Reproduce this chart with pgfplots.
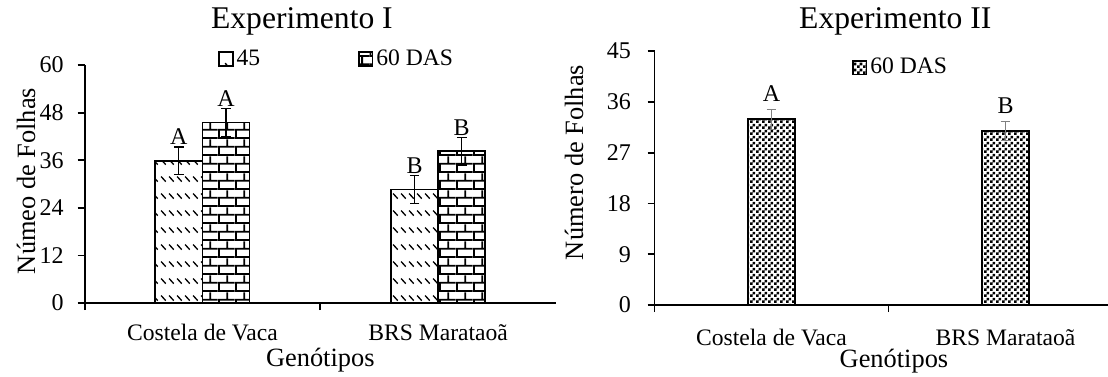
\documentclass[border=0pt]{standalone}
\usepackage{fontspec}
\setmainfont{Liberation Serif}
\usepackage{pgfplots}
\usepackage{pgfplotstable}
\pgfplotsset{compat=1.18}
\usetikzlibrary{patterns.meta}

% short dashes running down to the right
\pgfdeclarepattern{
  name=dashdiag,
  type=uncolored,
  bottom left={\pgfpoint{0pt}{0pt}},
  top right={\pgfpoint{4pt}{8.3pt}},
  tile size={\pgfpoint{4pt}{8.3pt}},
  code={
    \pgfsetlinewidth{0.7pt}
    \pgfpathmoveto{\pgfpoint{0.6pt}{7.4pt}}
    \pgfpathlineto{\pgfpoint{3.2pt}{4.8pt}}
    \pgfusepath{stroke}
  }
}
% horizontal brick wall
\pgfdeclarepattern{
  name=brickwall,
  type=uncolored,
  bottom left={\pgfpoint{0pt}{0pt}},
  top right={\pgfpoint{8.4pt}{8.4pt}},
  tile size={\pgfpoint{8.4pt}{8.4pt}},
  code={
    \pgfpathrectangle{\pgfpoint{0pt}{0pt}}{\pgfpoint{8.4pt}{0.9pt}}
    \pgfpathrectangle{\pgfpoint{0pt}{4.2pt}}{\pgfpoint{8.4pt}{0.9pt}}
    \pgfpathrectangle{\pgfpoint{0pt}{0.9pt}}{\pgfpoint{0.9pt}{3.3pt}}
    \pgfpathrectangle{\pgfpoint{4.2pt}{5.1pt}}{\pgfpoint{0.9pt}{3.3pt}}
    \pgfusepath{fill}
  }
}
% small checkerboard
\pgfdeclarepattern{
  name=finechecks,
  type=uncolored,
  bottom left={\pgfpoint{0pt}{0pt}},
  top right={\pgfpoint{2.8pt}{2.8pt}},
  tile size={\pgfpoint{2.8pt}{2.8pt}},
  code={
    \pgfpathrectangle{\pgfpoint{0pt}{0pt}}{\pgfpoint{1.4pt}{1.4pt}}
    \pgfpathrectangle{\pgfpoint{1.4pt}{1.4pt}}{\pgfpoint{1.4pt}{1.4pt}}
    \pgfusepath{fill}
  }
}

\pgfplotstableread{
x v45 e45 l45 v60 e60 l60
0 35.9 3.45 A 45.5 3.5 A
1 28.6 3.45 B 38.3 3.5 B
}\expI

\pgfplotstableread{
x v60 e60 l60
0 32.9 1.75 A
1 30.8 1.7 B
}\expII

\newcommand{\fs}[1]{\fontsize{#1}{#1}\selectfont}

\pgfplotsset{
  chartbase/.style={
    scale only axis,
    anchor=south west,
    xmin=-0.5, ymin=0,
    axis lines=left,
    axis line style={-, line width=0.9pt, black},
    tick align=outside,
    major tick length=3.5pt,
    tick style={black, line width=0.9pt},
    xtick={-0.5,0.5},
    xticklabels={},
    extra x ticks={0,1},
    extra x tick labels={Costela de Vaca,BRS Marataoã},
    extra x tick style={major tick length=0pt},
    /pgf/number format/assume math mode=true,
    yticklabel style={font=\fs{12}},
    xticklabel style={font=\fs{11.8}, anchor=base},
    ylabel style={font=\fs{13.2}},
    xlabel style={font=\fs{13.2}, anchor=base},
    title style={font=\fs{15.8}, anchor=base},
    legend columns=2,
    legend style={draw=none, fill=none, font=\fs{11.8}, anchor=west,
      inner sep=0pt, nodes={inner xsep=1.5pt},
      /tikz/every even column/.append style={column sep=47.5pt}},
    legend image code/.code={\draw[#1, line width=0.8pt] (0pt,-3.4pt) rectangle (6.8pt,3.4pt);},
  },
  letters/.style={draw=none, mark=none, nodes near coords,
    point meta=explicit symbolic,
    nodes near coords style={anchor=base, font=\fs{12}, inner sep=0pt}},
  errs/.style={draw=none, mark=none, forget plot,
    error bars/.cd, y dir=both, y explicit,
    error bar style={#1, line width=0.6pt},
    error mark options={rotate=90, mark size=2.4pt, #1, line width=0.6pt}},
}

\begin{document}
\begin{tikzpicture}
\path[use as bounding box] (0,0) rectangle (554pt,188pt);

% Experimento I
\begin{axis}[
  chartbase,
  at={(42.3pt,36.5pt)},
  width=235.7pt, height=119pt,
  xmax=1.5, ymax=60,
  ytick={0,12,...,60},
  yticklabel style={xshift=-3.5pt},
  ylabel={Númeo de Folhas},
  ylabel style={at={(axis description cs:-0.124,0.513)}, anchor=center},
  xlabel={Genótipos},
  xlabel style={at={(axis description cs:0.5,-0.265)}},
  title={Experimento I},
  title style={at={(axis description cs:0.461,1.105)}},
  legend style={at={(axis description cs:0.283,1.025)}},
  xticklabel style={yshift=-18.5pt},
]
\addplot[ybar, bar width=0.2, bar shift=-0.1, draw=black, line width=0.9pt,
  pattern={dashdiag}, pattern color=black]
  table[x=x, y=v45] {\expI};
\addlegendentry{45}
\addplot[ybar, bar width=0.2, bar shift=0.1, draw=black, line width=0.9pt,
  pattern={brickwall}, pattern color=black]
  table[x=x, y=v60] {\expI};
\addlegendentry{60 DAS}
% standard errors, one per bar
\addplot[errs=black]
  table[x expr=\thisrow{x}-0.1, y=v45, y error=e45] {\expI};
\addplot[errs=black]
  table[x expr=\thisrow{x}+0.1, y=v60, y error=e60] {\expI};
% letters of the mean comparison
\addplot[letters, nodes near coords style={yshift=1pt}, forget plot]
  table[x expr=\thisrow{x}-0.1, y expr=\thisrow{v45}+\thisrow{e45}, meta=l45] {\expI};
\addplot[letters, nodes near coords style={yshift=1pt}, forget plot]
  table[x expr=\thisrow{x}+0.1, y expr=\thisrow{v60}+\thisrow{e60}, meta=l60] {\expI};
\end{axis}

% Experimento II
\begin{axis}[
  chartbase,
  at={(327.25pt,35.5pt)},
  width=226.75pt, height=127pt,
  xmax=1.438, ymax=45,
  ytick={0,9,...,45},
  yticklabel style={xshift=-4.75pt},
  ylabel={Número de Folhas},
  ylabel style={at={(axis description cs:-0.1775,0.561)}, anchor=center},
  xlabel={Genótipos},
  xlabel style={at={(axis description cs:0.528,-0.248)}},
  title={Experimento II},
  title style={at={(axis description cs:0.531,1.043)}},
  legend style={at={(axis description cs:0.435,0.935)}},
  xticklabel style={yshift=-20pt},
]
\addplot[ybar, bar width=0.2, bar shift=0, draw=black, line width=0.9pt,
  pattern={finechecks}, pattern color=black]
  table[x=x, y=v60] {\expII};
\addlegendentry{60 DAS}
\addplot[errs=gray]
  table[x=x, y=v60, y error=e60] {\expII};
\addplot[letters, nodes near coords style={yshift=4pt}, forget plot]
  table[x=x, y expr=\thisrow{v60}+\thisrow{e60}, meta=l60] {\expII};
\end{axis}
\end{tikzpicture}
\end{document}
